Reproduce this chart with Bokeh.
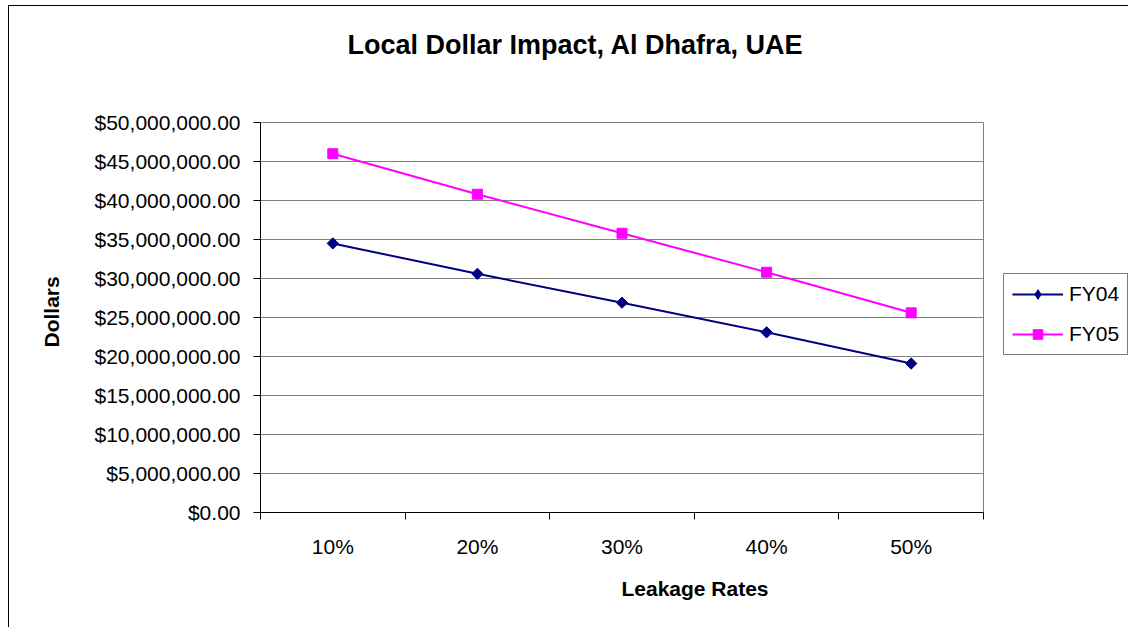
import math
from bokeh.plotting import figure
from bokeh.models import (FixedTicker, NumeralTickFormatter, Legend, LegendItem,
                          Range1d, Label, Title)
from bokeh.embed import file_html
from bokeh.resources import INLINE

# ---- data ----
categories = ["10%", "20%", "30%", "40%", "50%"]
fy04 = [34500000, 30600000, 26900000, 23100000, 19100000]
fy05 = [46000000, 40800000, 35800000, 30800000, 25600000]
y_ticks = [0, 5000000, 10000000, 15000000, 20000000, 25000000,
           30000000, 35000000, 40000000, 45000000, 50000000]
title_text = "Local Dollar Impact, Al Dhafra, UAE"
x_label = "Leakage Rates"
y_label = "Dollars"

FONT = "Liberation Sans"
NAVY = "#000080"
MAGENTA = "#FF00FF"
GRID = "#808080"

n = len(categories)
x_pos = [i + 0.5 for i in range(n)]
boundaries = list(range(n + 1))
y_max = y_ticks[-1]

# canvas geometry (pixels): plot area 723 x 390, frame extended right/up
W, H = 1120, 622
LEFT, BOTTOM = 251, 116
PLOT_W, PLOT_H = 723, 390
frame_w = W - LEFT
frame_h = H - BOTTOM
x_end = n * frame_w / PLOT_W
y_end = y_max * frame_h / PLOT_H

p = figure(width=W, height=H, output_backend="svg", toolbar_location=None,
           x_range=Range1d(0, x_end), y_range=Range1d(0, y_end),
           min_border_left=LEFT, min_border_right=0, min_border_top=0,
           min_border_bottom=BOTTOM)
p.margin = (5, 0, 0, 8)
p.styles = {"border-top": "1px solid black", "border-left": "1px solid black"}
p.background_fill_color = "white"
p.border_fill_color = "white"
p.outline_line_color = None
p.xgrid.visible = False
p.ygrid.visible = False

# gridlines and right border of plot area
p.segment(x0=[0] * len(y_ticks), y0=y_ticks, x1=[n] * len(y_ticks), y1=y_ticks,
          line_color=GRID, line_width=1)
p.segment(x0=[n], y0=[0], x1=[n], y1=[y_max], line_color=GRID, line_width=1)

# lines & markers
l4 = p.line(x_pos, fy04, line_color=NAVY, line_width=2)
s4 = p.scatter(x_pos, fy04, marker="square", angle=math.pi / 4, size=8,
               fill_color=NAVY, line_color=NAVY)
s4_leg = p.scatter(x_pos, fy04, marker="diamond", size=13,
                   fill_color=NAVY, line_color=NAVY, visible=False)
l5 = p.line(x_pos, fy05, line_color=MAGENTA, line_width=2)
s5 = p.scatter(x_pos, fy05, marker="square", size=10,
               fill_color=MAGENTA, line_color=MAGENTA)

# x axis
xa = p.xaxis[0]
xa.bounds = (0, n)
xa.ticker = FixedTicker(ticks=x_pos, minor_ticks=boundaries)
xa.major_label_overrides = {x: c for x, c in zip(x_pos, categories)}
xa.major_tick_out = 0
xa.major_tick_in = 0
xa.minor_tick_out = 7
xa.minor_tick_in = 0
xa.minor_tick_line_color = "black"
xa.axis_line_color = "black"
xa.major_label_text_font = FONT
xa.major_label_text_font_size = "21px"
xa.major_label_text_color = "black"
xa.major_label_standoff = 15
xa.axis_label = x_label
xa.axis_label_text_font = FONT
xa.axis_label_text_font_size = "21px"
xa.axis_label_text_font_style = "bold"
xa.axis_label_text_color = "black"
xa.axis_label_standoff = 16

# y axis
ya = p.yaxis[0]
ya.bounds = (0, y_max)
ya.ticker = FixedTicker(ticks=y_ticks, minor_ticks=[])
ya.formatter = NumeralTickFormatter(format="$0,0.00")
ya.major_tick_out = 7
ya.major_tick_in = 0
ya.major_tick_line_color = "black"
ya.axis_line_color = "black"
ya.major_label_text_font = FONT
ya.major_label_text_font_size = "21px"
ya.major_label_text_color = "black"
ya.major_label_standoff = 13

# y axis title, centred on the plot area (not the extended frame)
p.add_layout(Title(text=y_label, align="left", offset=165,
                   vertical_align="middle", standoff=56, text_font=FONT,
                   text_font_size="21px", text_font_style="bold",
                   text_color="black"), "left")

# chart title (inside the extended frame)
p.add_layout(Label(x=315, y=468, x_units="screen", y_units="screen",
                   text=title_text, text_align="center",
                   text_baseline="alphabetic", text_font=FONT,
                   text_font_size="27px", text_font_style="bold",
                   text_color="black"))

legend = Legend(items=[LegendItem(label="FY04", renderers=[l4, s4_leg]),
                       LegendItem(label="FY05", renderers=[l5, s5])],
                location=(743, 157), border_line_color="black",
                border_line_width=1, background_fill_color="white",
                background_fill_alpha=1.0, label_text_font=FONT,
                label_text_font_size="21px", label_text_color="black",
                glyph_width=51, glyph_height=24, label_height=24,
                spacing=16, padding=8, margin=0, label_standoff=6,
                inactive_fill_alpha=0)
p.add_layout(legend)

open("out.html", "w").write(file_html(p, INLINE))
